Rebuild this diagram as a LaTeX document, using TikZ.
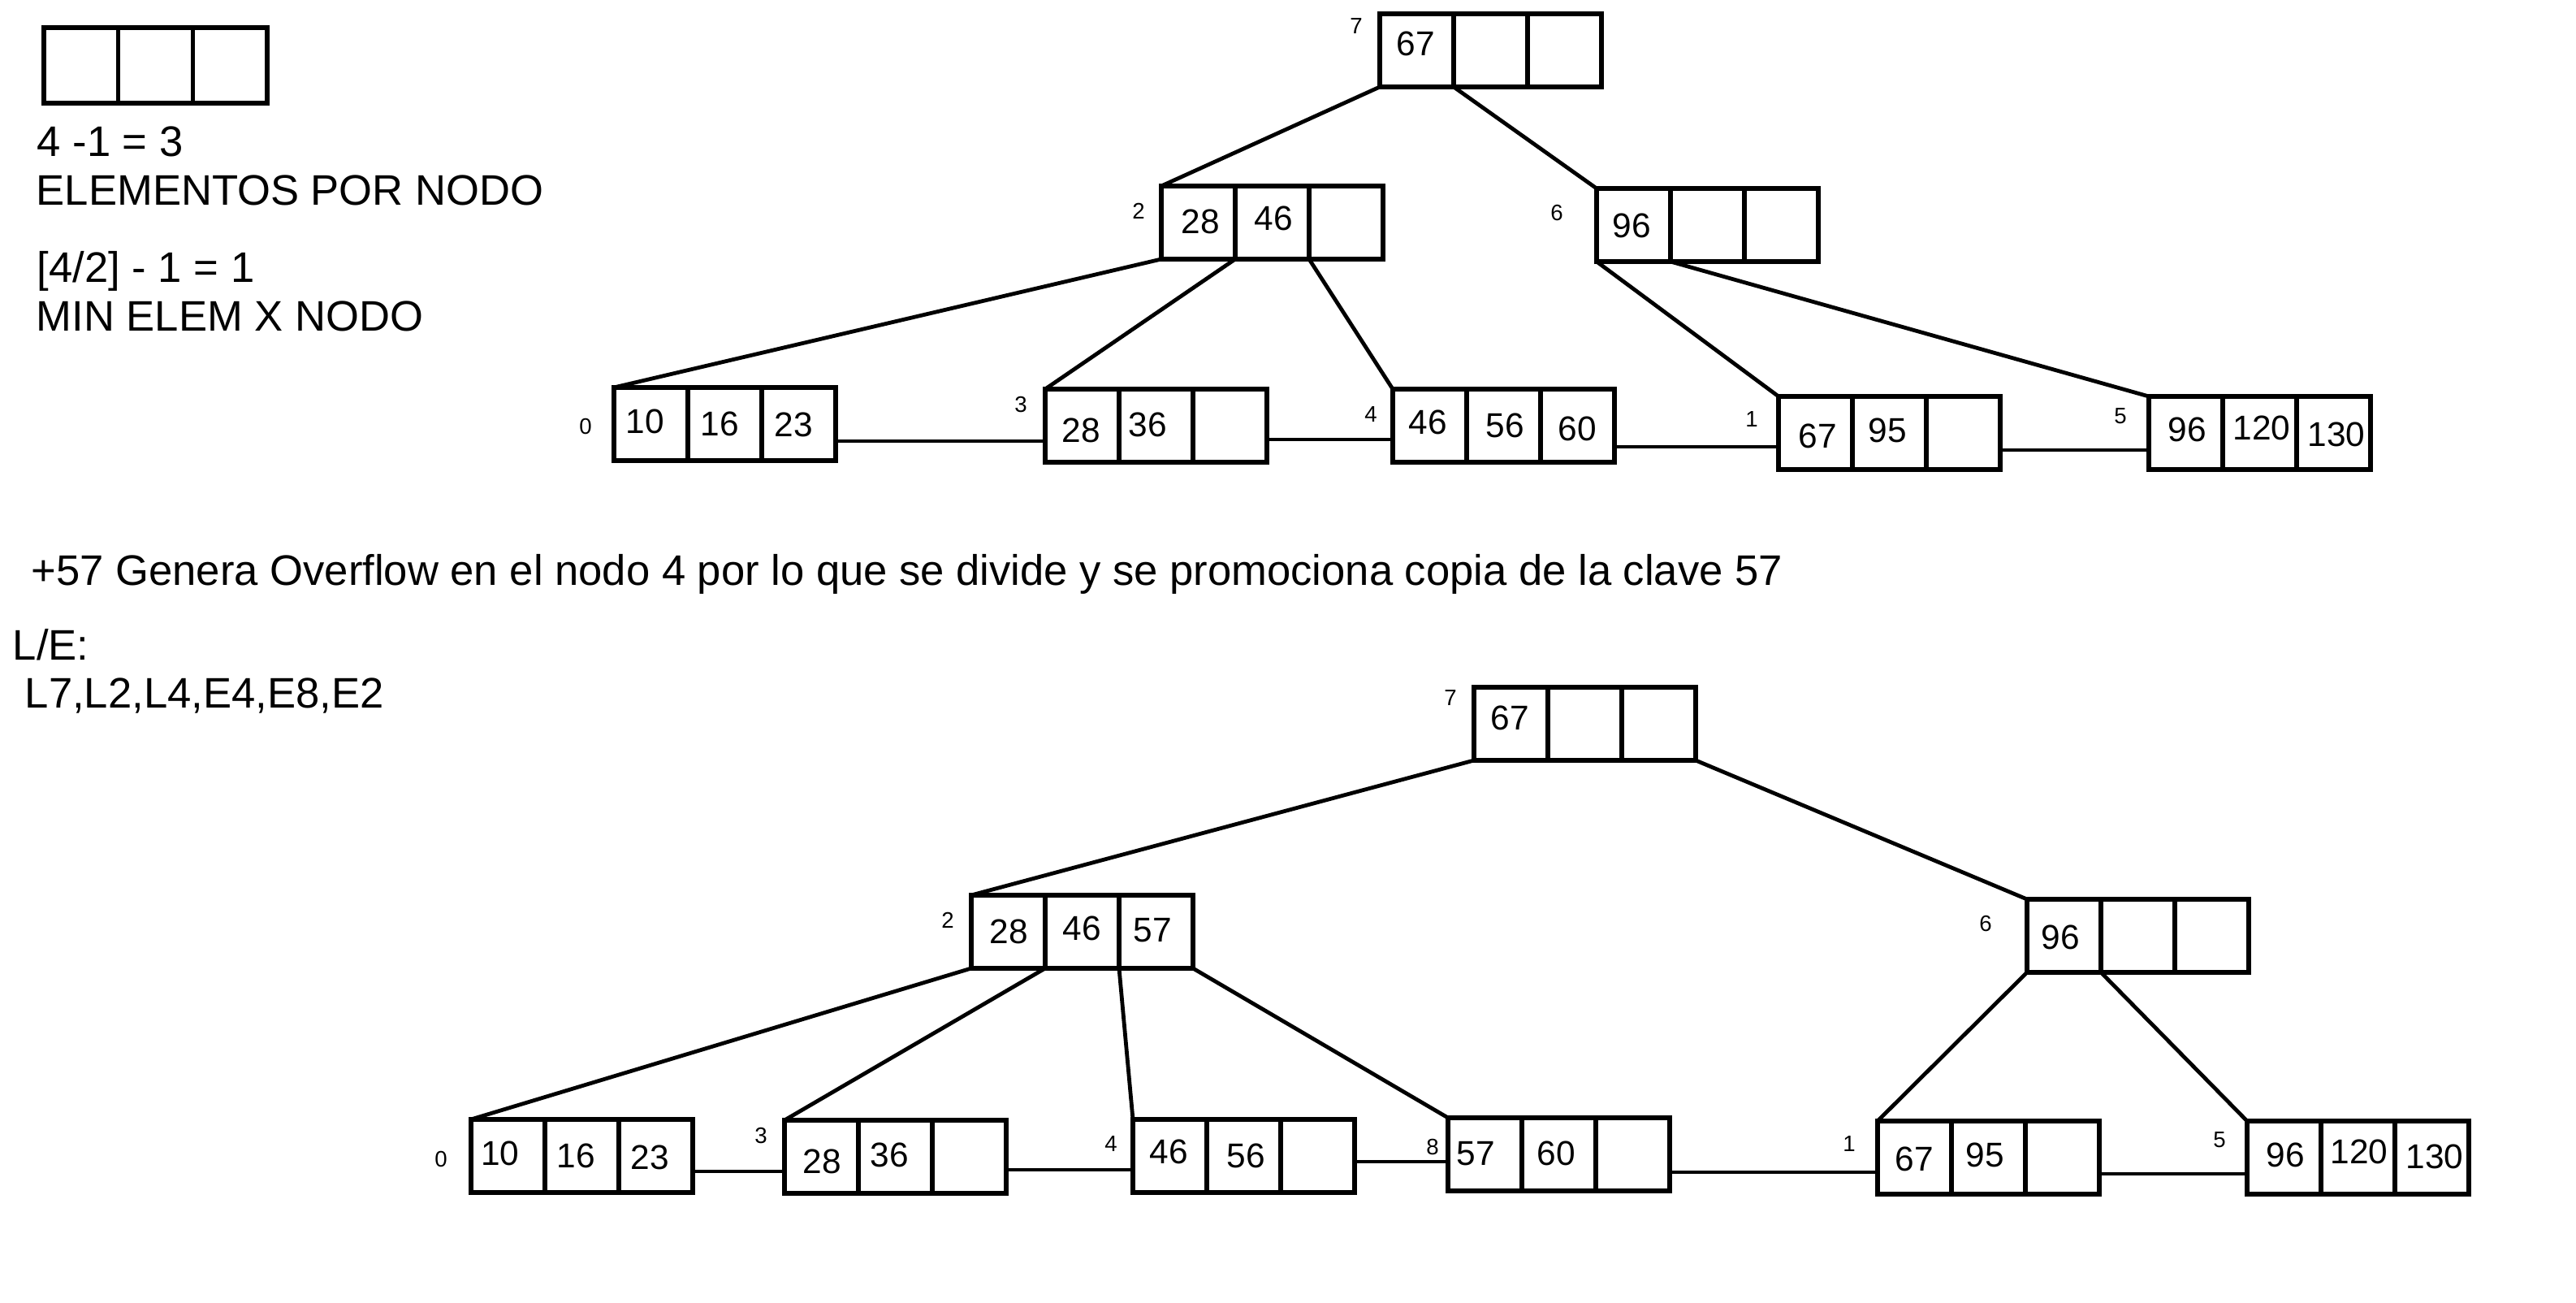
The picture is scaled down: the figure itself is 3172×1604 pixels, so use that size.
\documentclass[tikz,border=0pt]{standalone}
\usepackage{fontspec}
\setmainfont{Liberation Sans}
\usetikzlibrary{calc}
\tikzset{
  bbox/.style={draw, line width=1.3pt, minimum width=68.25pt, minimum height=22.5pt,
    inner sep=0pt, outer sep=0pt, anchor=north west},
  edge/.style={line width=1.2pt},
  key/.style={font=\fontsize{10.6}{12}\selectfont, inner sep=0pt},
  lbl/.style={font=\fontsize{6.9}{8}\selectfont, inner sep=0pt},
  txt/.style={font=\fontsize{13.15}{15.6}\selectfont, inner sep=0pt, anchor=base west},
}
\newcommand{\btree}[3]{%
  \node[bbox] (#1) at (#2,#3) {};
  \coordinate (#1-b1) at ($(#1.south west)!1/3!(#1.south east)$);
  \coordinate (#1-b2) at ($(#1.south west)!2/3!(#1.south east)$);
  \draw[line width=1.3pt] ($(#1.north west)!1/3!(#1.north east)$) -- (#1-b1);
  \draw[line width=1.3pt] ($(#1.north west)!2/3!(#1.north east)$) -- (#1-b2);
}
\begin{document}
\begin{tikzpicture}[x=0.25pt, y=-0.25pt]
\useasboundingbox (0,0) rectangle (3172,1604);

% legend
\node[bbox, minimum width=68.75pt, minimum height=23.25pt] (legend) at (54,34) {};
\draw[line width=1.3pt] ($(legend.north west)!1/3!(legend.north east)$) -- ($(legend.south west)!1/3!(legend.south east)$);
\draw[line width=1.3pt] ($(legend.north west)!2/3!(legend.north east)$) -- ($(legend.south west)!2/3!(legend.south east)$);
\node[txt] (l1) at (45,193) {4 -1 = 3};
\node[txt] (l2) at (44,253) {ELEMENTOS POR NODO};
\node[txt] (l3) at (45,348) {[4/2] - 1 = 1};
\node[txt] (l4) at (44,408) {MIN ELEM X NODO};
\node[txt] (msg) at (38,721) {+57 Genera Overflow en el nodo 4 por lo que se divide y se promociona copia de la clave 57};
\node[txt] (le) at (15,813) {L/E:};
\node[txt] (ops) at (30,872) {L7,L2,L4,E4,E8,E2};

% ---------- top tree ----------
\btree{t7}{1699}{17}
\btree{t2}{1430}{229}
\btree{t6}{1966}{232}
\btree{t0}{756}{477}
\btree{t3}{1287}{479}
\btree{t4}{1715}{479}
\btree{t1}{2190}{488}
\btree{t5}{2646}{488}

\node[lbl] (t7l) at (1670,32) {7};
\node[lbl] (t2l) at (1402,260) {2};
\node[lbl] (t6l) at (1917,262) {6};
\node[lbl] (t0l) at (721,525) {0};
\node[lbl] (t3l) at (1257,498) {3};
\node[lbl] (t4l) at (1688,510) {4};
\node[lbl] (t1l) at (2157,516) {1};
\node[lbl] (t5l) at (2611,512) {5};

\node[key] (t7k1) at (1743,54) {67};
\node[key] (t2k1) at (1478,273) {28};
\node[key] (t2k2) at (1568,269) {46};
\node[key] (t6k1) at (2009,278) {96};
\node[key] (t0k1) at (794,519) {10};
\node[key] (t0k2) at (886,522) {16};
\node[key] (t0k3) at (977,523) {23};
\node[key] (t3k1) at (1331,530) {28};
\node[key] (t3k2) at (1413,523) {36};
\node[key] (t4k1) at (1758,520) {46};
\node[key] (t4k2) at (1853,524) {56};
\node[key] (t4k3) at (1942,528) {60};
\node[key] (t1k1) at (2238,537) {67};
\node[key] (t1k2) at (2324,530) {95};
\node[key] (t5k1) at (2693,529) {96};
\node[key] (t5k2) at (2785,527) {120};
\node[key] (t5k3) at (2877,535) {130};

\draw[edge] (t7.south west) -- (t2.north west);
\draw[edge] (t7-b1) -- (t6.north west);
\draw[edge] (t2.south west) -- (t0.north west);
\draw[edge] (t2-b1) -- (t3.north west);
\draw[edge] (t2-b2) -- (t4.north west);
\draw[edge] (t6.south west) -- (t1.north west);
\draw[edge] (t6-b1) -- (t5.north west);

\draw[edge] (t0.east |- 0,543) -- (t3.west |- 0,543);
\draw[edge] (t3.east |- 0,541) -- (t4.west |- 0,541);
\draw[edge] (t4.east |- 0,550) -- (t1.west |- 0,550);
\draw[edge] (t1.east |- 0,554) -- (t5.west |- 0,554);

% ---------- bottom tree ----------
\btree{b7}{1815}{846}
\btree{b2}{1196}{1102}
\btree{b6}{2496}{1107}
\btree{b0}{580}{1378}
\btree{b3}{966}{1379}
\btree{b4}{1395}{1378}
\btree{b8}{1783}{1376}
\btree{b1}{2312}{1380}
\btree{b5}{2767}{1380}

\node[lbl] (b7l) at (1786,859) {7};
\node[lbl] (b2l) at (1167,1133) {2};
\node[lbl] (b6l) at (2445,1137) {6};
\node[lbl] (b0l) at (543,1427) {0};
\node[lbl] (b3l) at (937,1398) {3};
\node[lbl] (b4l) at (1368,1408) {4};
\node[lbl] (b8l) at (1764,1412) {8};
\node[lbl] (b1l) at (2277,1408) {1};
\node[lbl] (b5l) at (2733,1403) {5};

\node[key] (b7k1) at (1859,884) {67};
\node[key] (b2k1) at (1242,1147) {28};
\node[key] (b2k2) at (1332,1143) {46};
\node[key] (b2k3) at (1419,1145) {57};
\node[key] (b6k1) at (2537,1154) {96};
\node[key] (b0k1) at (616,1420) {10};
\node[key] (b0k2) at (709,1423) {16};
\node[key] (b0k3) at (800,1425) {23};
\node[key] (b3k1) at (1012,1430) {28};
\node[key] (b3k2) at (1095,1422) {36};
\node[key] (b4k1) at (1439,1418) {46};
\node[key] (b4k2) at (1534,1423) {56};
\node[key] (b8k1) at (1817,1420) {57};
\node[key] (b8k2) at (1916,1420) {60};
\node[key] (b1k1) at (2357,1427) {67};
\node[key] (b1k2) at (2444,1422) {95};
\node[key] (b5k1) at (2814,1422) {96};
\node[key] (b5k2) at (2905,1418) {120};
\node[key] (b5k3) at (2998,1424) {130};

\draw[edge] (b7.south west) -- (b2.north west);
\draw[edge] (b7.south east) -- (b6.north west);
\draw[edge] (b2.south west) -- (b0.north west);
\draw[edge] (b2-b1) -- (b3.north west);
\draw[edge] (b2-b2) -- (b4.north west);
\draw[edge] (b2.south east) -- (b8.north west);
\draw[edge] (b6.south west) -- (b1.north west);
\draw[edge] (b6-b1) -- (b5.north west);

\draw[edge] (b0.east |- 0,1442) -- (b3.west |- 0,1442);
\draw[edge] (b3.east |- 0,1440) -- (b4.west |- 0,1440);
\draw[edge] (b4.east |- 0,1430) -- (b8.west |- 0,1430);
\draw[edge] (b8.east |- 0,1443) -- (b1.west |- 0,1443);
\draw[edge] (b1.east |- 0,1445) -- (b5.west |- 0,1445);
\end{tikzpicture}
\end{document}
